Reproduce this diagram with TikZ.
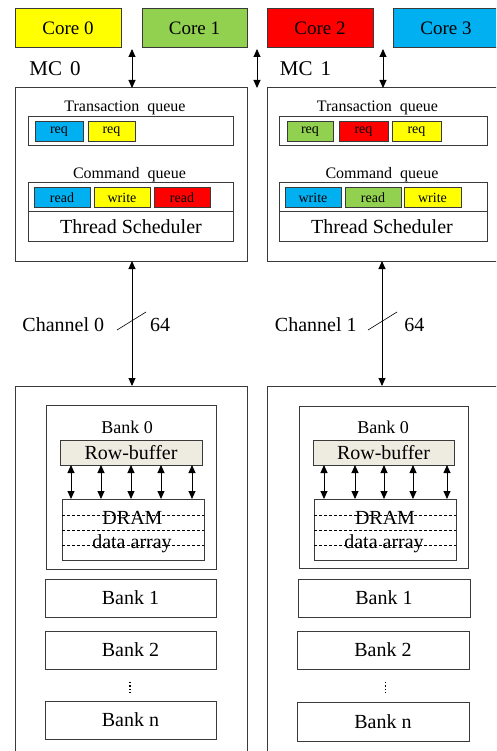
\documentclass[tikz,border=0pt]{standalone}
\usepackage{fontspec}
\setmainfont{Liberation Serif}
\usetikzlibrary{arrows.meta,calc}
\definecolor{cyellow}{HTML}{FFFF00}
\definecolor{cgreen}{HTML}{92D050}
\definecolor{cred}{HTML}{FF0000}
\definecolor{cblue}{HTML}{00B0F0}
\definecolor{rowbuf}{HTML}{EEECE1}
\definecolor{edge}{HTML}{3A3A3A}

% rectangle node given by its corners: name, x1, y1, x2, y2, style, text
\newcommand\pxbox[7]{%
  \node[#6, minimum width={#4pt-#2pt}, minimum height={#5pt-#3pt}]
    (#1) at ({(#2+#4)/2},{(#3+#5)/2}) {#7};}

\tikzset{
  box/.style={draw=edge, line width=1pt, inner sep=0pt, outer sep=0pt},
  dbl/.style={{Triangle[length=8pt,width=7pt]}-{Triangle[length=8pt,width=7pt]}, line width=0.9pt, black},
  lbl/.style={anchor=base, inner sep=0pt},
  f14/.style={font=\fontsize{14}{16}\selectfont},
  f16/.style={font=\fontsize{16}{19}\selectfont},
  f18/.style={font=\fontsize{18}{21}\selectfont},
  f19/.style={font=\fontsize{19}{22}\selectfont},
  f20/.style={font=\fontsize{20}{24}\selectfont},
  f21/.style={font=\fontsize{21}{25}\selectfont},
  dsh/.style={draw=black, line width=0.7pt, dash pattern=on 3pt off 2pt},
}

\begin{document}
\begin{tikzpicture}[x=1pt,y=-1pt]
\useasboundingbox (0,0) rectangle (496,751);
\clip (0,0) rectangle (496,751);

% ---------- cores ----------
\pxbox{core0}{15}{9}{121}{48}{box,fill=cyellow,f19}{Core 0}
\pxbox{core1}{142}{9}{247}{48}{box,fill=cgreen,f19}{Core 1}
\pxbox{core2}{267}{9}{373}{48}{box,fill=cred,f19}{Core 2}
\pxbox{core3}{393}{9}{499}{48}{box,fill=cblue,f19}{Core 3}

% ---------- memory controllers ----------
\pxbox{mc0}{15}{88}{247}{261}{box}{}
\pxbox{mc1}{267}{88}{530}{261}{box}{}
\node[lbl,f21] (mc0lbl) at (55,76) {MC\hspace{0.38em}0};
\node[lbl,f21] (mc1lbl) at (305.5,76) {MC\hspace{0.38em}1};

\coordinate (pa) at (132,49);
\coordinate (pb) at (257,49);
\coordinate (pc) at (383,49);
\draw[dbl] (pa) -- (pa |- mc0.north);
\draw[dbl] (pb) -- (pb |- mc0.north);
\draw[dbl] (pc) -- (pc |- mc1.north);

% MC 0 queues
\node[lbl,f16] (tq0lbl) at (125,112) {Transaction\hspace{0.5em}queue};
\pxbox{tq0}{28}{117}{233}{146}{box}{}
\pxbox{tq0a}{35}{122}{83}{142}{box,fill=cblue,f14}{req}
\pxbox{tq0b}{88}{122}{135}{142}{box,fill=cyellow,f14}{req}

\node[lbl,f16] (cq0lbl) at (129.5,179) {Command\hspace{0.5em}queue};
\pxbox{cq0}{28}{183}{233}{212}{box}{}
\pxbox{ts0}{28}{212}{233}{241}{box}{}
\node[lbl,f20] (ts0lbl) at (131,233.5) {Thread Scheduler};
\pxbox{cq0a}{34}{188}{90}{208}{box,fill=cblue,f14}{read}
\pxbox{cq0b}{94}{188}{150}{208}{box,fill=cyellow,f14}{write}
\pxbox{cq0c}{154}{188}{210}{208}{box,fill=cred,f14}{read}

% MC 1 queues
\node[lbl,f16] (tq1lbl) at (377.5,112) {Transaction\hspace{0.5em}queue};
\pxbox{tq1}{279}{117}{487}{146}{box}{}
\pxbox{tq1a}{287}{122}{333}{142}{box,fill=cgreen,f14}{req}
\pxbox{tq1b}{339}{122}{388}{142}{box,fill=cred,f14}{req}
\pxbox{tq1c}{392}{122}{441}{142}{box,fill=cyellow,f14}{req}

\node[lbl,f16] (cq1lbl) at (382,179) {Command\hspace{0.5em}queue};
\pxbox{cq1}{279}{183}{487}{212}{box}{}
\pxbox{ts1}{279}{212}{487}{241}{box}{}
\node[lbl,f20] (ts1lbl) at (382,233.5) {Thread Scheduler};
\pxbox{cq1a}{285}{188}{341}{208}{box,fill=cblue,f14}{write}
\pxbox{cq1b}{345}{188}{401}{208}{box,fill=cgreen,f14}{read}
\pxbox{cq1c}{404}{188}{461}{208}{box,fill=cyellow,f14}{write}

% ---------- DRAM modules ----------
\pxbox{dimm0}{15}{386}{247}{770}{box}{}
\pxbox{dimm1}{267}{386}{530}{770}{box}{}

% channels
\draw[dbl] (mc0.south -| pa) -- (dimm0.north -| pa);
\coordinate (pd) at (382,261);
\draw[dbl] (mc1.south -| pd) -- (dimm1.north -| pd);
\draw[line width=0.6pt] (117,330) -- (146,312);
\draw[line width=0.6pt] (368,330) -- (397,312);
\node[lbl,f20] (ch0) at (63.3,331) {Channel 0};
\node[lbl,f20] (w0) at (160,331) {64};
\node[lbl,f20] (ch1) at (315.8,331) {Channel 1};
\node[lbl,f20] (w1) at (414.3,331) {64};

% bank 0, left
\pxbox{b0L}{46}{405}{216}{569}{box}{}
\node[lbl,f18] (b0Llbl) at (127.2,433.3) {Bank 0};
\pxbox{rbL}{60}{440}{202}{465}{box,fill=rowbuf,f20}{Row-buffer}
\pxbox{drL}{62}{499}{204}{560}{box}{}
\foreach \x in {71,101,131,161,192}
  \draw[dbl] (rbL.south -| \x,0) -- (drL.north -| \x,0);
\node[lbl,f20] (drLa) at (132.5,524) {DRAM};
\node[lbl,f20] (drLb) at (132,548.3) {data array};
\foreach \y in {515,530,545}
  \draw[dsh] (drL.west |- 0,\y) -- (drL.east |- 0,\y);

% bank 0, right
\pxbox{b0R}{299}{406}{468}{568}{box}{}
\node[lbl,f18] (b0Rlbl) at (383,433.3) {Bank 0};
\pxbox{rbR}{313}{440}{454}{465}{box,fill=rowbuf,f20}{Row-buffer}
\pxbox{drR}{314}{499}{456}{560}{box}{}
\foreach \x in {324,355,384,413,447}
  \draw[dbl] (rbR.south -| \x,0) -- (drR.north -| \x,0);
\node[lbl,f20] (drRa) at (385,524) {DRAM};
\node[lbl,f20] (drRb) at (384,548.3) {data array};
\foreach \y in {515,530,545}
  \draw[dsh] (drR.west |- 0,\y) -- (drR.east |- 0,\y);

% remaining banks
\pxbox{b1L}{45}{579}{216}{617}{box,f20}{Bank 1}
\pxbox{b2L}{45}{631}{216}{669}{box,f20}{Bank 2}
\pxbox{bnL}{45}{701}{216}{739}{box,f20}{Bank n}
\pxbox{b1R}{298}{579}{470}{617}{box,f20}{Bank 1}
\pxbox{b2R}{297}{631}{469}{669}{box,f20}{Bank 2}
\pxbox{bnR}{297}{702}{469}{741}{box,f20}{Bank n}
\draw[line width=1.3pt, dash pattern=on 1.3pt off 2pt] (130,682) -- (130,695);
\draw[line width=1.3pt, dash pattern=on 1.3pt off 2pt] (385.7,682) -- (385.7,695);
\end{tikzpicture}
\end{document}
